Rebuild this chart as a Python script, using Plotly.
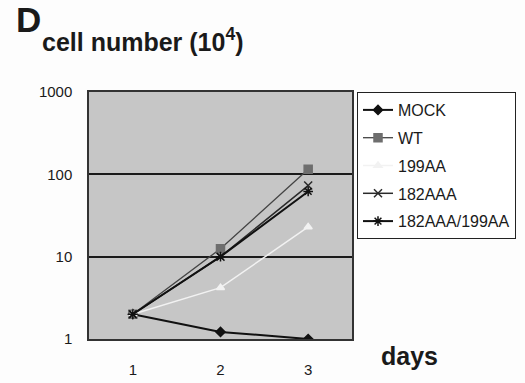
import plotly.graph_objects as go

days = [1, 2, 3]
tick_labels = ["1", "2", "3"]
y_ticks = [1, 10, 100, 1000]
mock = [2.0, 1.22, 1.0]
wt = [2.0, 12.5, 115]
aa199 = [2.0, 4.2, 23]
aaa182 = [2.0, 10.0, 73]
aaa182_aa199 = [2.0, 10.0, 62]

FONT = "Arial, Liberation Sans, sans-serif"

series = [
    ("MOCK", mock, "#111111", "diamond", "#111111", 7, 2),
    ("WT", wt, "#444444", "square", "#6e6e6e", 8, 1.3),
    ("199AA", aa199, "#f2f2f2", "triangle-up", "#f2f2f2", 7, 1.5),
    ("182AAA", aaa182, "#2a2a2a", "x-thin-open", "#2a2a2a", 8, 1.5),
    ("182AAA/199AA", aaa182_aa199, "#111111", "asterisk-open", "#111111", 8, 2),
]

W, H = 525, 383
ML, MR, MT, MB = 89, 173, 92, 44

fig = go.Figure()
for name, vals, lc, sym, mc, ms, lw in series:
    fig.add_trace(go.Scatter(
        x=days, y=vals, name=name, mode="lines+markers", legendgroup=name,
        line=dict(color=lc, width=lw),
        marker=dict(symbol=sym, color=mc, size=ms, line=dict(color=mc, width=1.5)),
    ))

pw = W - ML - MR
ph = H - MT - MB


def px_x(x):
    return (x - ML) / pw


def px_y(y):
    return (H - MB - y) / ph


fig.update_layout(
    width=W, height=H,
    margin=dict(l=ML, r=MR, t=MT, b=MB, autoexpand=False),
    paper_bgcolor="#fdfdfd",
    plot_bgcolor="#c6c6c6",
    font=dict(family=FONT, color="#1a1a1a"),
    showlegend=True,
    legend=dict(
        x=px_x(357), y=1.0, xanchor="left", yanchor="top",
        bordercolor="#222222", borderwidth=1, bgcolor="#ffffff",
        font=dict(size=16, family=FONT, color="#1a1a1a"),
        tracegroupgap=4, itemwidth=30,
    ),
    xaxis=dict(
        range=[0.5, 3.5], tickvals=days, ticktext=tick_labels,
        showgrid=False, zeroline=False, showline=True, mirror=True,
        linecolor="#333333", linewidth=1.5, ticks="",
        tickfont=dict(size=15, family=FONT, color="#1a1a1a"),
        ticklabelstandoff=16,
    ),
    yaxis=dict(
        type="log", range=[0, 3], tickvals=y_ticks,
        ticktext=[str(v) for v in y_ticks],
        showgrid=True, gridcolor="#1a1a1a", gridwidth=2,
        zeroline=False, showline=True, mirror=True,
        linecolor="#333333", linewidth=1.5, ticks="",
        tickfont=dict(size=15, family=FONT, color="#1a1a1a"),
        ticklabelstandoff=12,
    ),
    annotations=[
        dict(text="<b>D</b>", x=px_x(14), y=px_y(-2), xref="paper", yref="paper",
             showarrow=False, font=dict(size=35, family=FONT, color="#1a1a1a"),
             xanchor="left", yanchor="top"),
        dict(text="<b>cell number (10<sup>4</sup>)</b>", x=px_x(40), y=px_y(22),
             xref="paper", yref="paper",
             showarrow=False, font=dict(size=25, family=FONT, color="#1a1a1a"),
             xanchor="left", yanchor="top"),
        dict(text="<b>days</b>", x=px_x(379), y=px_y(340),
             xref="paper", yref="paper",
             showarrow=False, font=dict(size=25, family=FONT, color="#1a1a1a"),
             xanchor="left", yanchor="top"),
    ],
)

fig.write_html("out.html", config={"displayModeBar": False},
               post_script="document.body.style.margin='0px';")
